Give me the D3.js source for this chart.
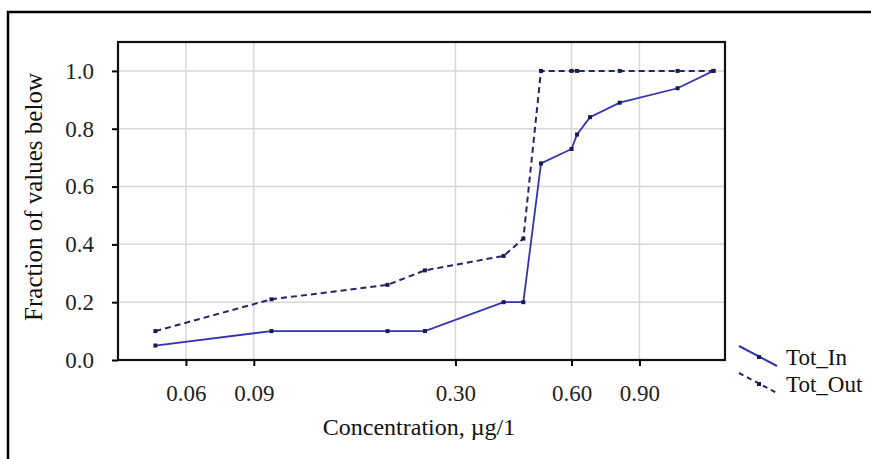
<!DOCTYPE html>
<html>
<head>
<meta charset="utf-8">
<script src="https://cdn.jsdelivr.net/npm/d3@7"></script>
<style>
  body { margin: 0; background: #fff; }
  svg { display: block; }
</style>
</head>
<body>
<svg id="chart" width="871" height="459"></svg>
<script>
// concentrations (ug/l) and cumulative fractions
const inConc = [0.05, 0.10, 0.20, 0.25, 0.40, 0.45, 0.50, 0.60, 0.62, 0.67, 0.80, 1.13, 1.40];
const inFrac = [0.05, 0.10, 0.10, 0.10, 0.20, 0.20, 0.68, 0.73, 0.78, 0.84, 0.89, 0.94, 1.00];
const outConc = [0.05, 0.10, 0.20, 0.25, 0.40, 0.45, 0.50, 0.60, 0.62, 0.80, 1.13, 1.40];
const outFrac = [0.10, 0.21, 0.26, 0.31, 0.36, 0.42, 1.00, 1.00, 1.00, 1.00, 1.00, 1.00];

const xTicks = [0.06, 0.09, 0.30, 0.60, 0.90];
const yTicks = [0.0, 0.2, 0.4, 0.6, 0.8, 1.0];
const seriesNames = ["Tot_In", "Tot_Out"];

const svg = d3.select("#chart");
const font = "'Liberation Serif', 'Times New Roman', serif";

const plot = {left: 118, right: 725, top: 42, bottom: 360};

const x = d3.scaleLog().domain([0.04, 1.5]).range([plot.left, plot.right]);
const y = d3.scaleLinear().domain([0, 1.1]).range([plot.bottom, plot.top]);

// outer frame of the picture (right and bottom edges cut off)
svg.append("rect")
    .attr("x", 8).attr("y", 12)
    .attr("width", 900).attr("height", 500)
    .attr("fill", "none")
    .attr("stroke", "#000")
    .attr("stroke-width", 2.5);

// grid
const grid = svg.append("g");
grid.selectAll(".hg").data(yTicks.filter(d => d > 0)).join("line")
    .attr("x1", plot.left).attr("x2", plot.right)
    .attr("y1", d => y(d)).attr("y2", d => y(d))
    .attr("stroke", "#d8d8d8").attr("stroke-width", 1.5);
grid.selectAll(".vg").data(xTicks).join("line")
    .attr("x1", d => x(d)).attr("x2", d => x(d))
    .attr("y1", plot.top).attr("y2", plot.bottom)
    .attr("stroke", "#d8d8d8").attr("stroke-width", 1.5);

// axes
const yAxis = svg.append("g")
    .attr("transform", `translate(${plot.left},0)`)
    .call(d3.axisLeft(y).tickValues(yTicks).tickFormat(d3.format(".1f")).tickSize(6).tickPadding(18));
const xAxis = svg.append("g")
    .attr("transform", `translate(0,${plot.bottom})`)
    .call(d3.axisBottom(x).tickValues(xTicks).tickFormat(d3.format(".2f")).tickSize(6).tickPadding(19));

[xAxis, yAxis].forEach(a => {
    a.select(".domain").remove();
    a.selectAll(".tick line").attr("stroke", "#000").attr("stroke-width", 2);
    a.selectAll(".tick text")
        .attr("font-family", font)
        .attr("font-size", 23)
        .attr("fill", "#222");
});

// plot frame
svg.append("rect")
    .attr("x", plot.left).attr("y", plot.top)
    .attr("width", plot.right - plot.left).attr("height", plot.bottom - plot.top)
    .attr("fill", "none")
    .attr("stroke", "#111")
    .attr("stroke-width", 2.2);

// series
const inData = inConc.map((c, i) => ({c: c, f: inFrac[i]}));
const outData = outConc.map((c, i) => ({c: c, f: outFrac[i]}));

const line = d3.line().x(d => x(d.c)).y(d => y(d.f));

svg.append("path").datum(outData)
    .attr("d", line)
    .attr("fill", "none")
    .attr("stroke", "#24246a")
    .attr("stroke-width", 2)
    .attr("stroke-dasharray", "6,4");
svg.append("path").datum(inData)
    .attr("d", line)
    .attr("fill", "none")
    .attr("stroke", "#3434b0")
    .attr("stroke-width", 1.8);

[outData, inData].forEach(data => {
    svg.append("g").selectAll("rect").data(data).join("rect")
        .attr("x", d => x(d.c) - 2).attr("y", d => y(d.f) - 2)
        .attr("width", 4).attr("height", 4)
        .attr("fill", "#1a1a50");
});

// axis titles
svg.append("text")
    .attr("x", 419).attr("y", 435)
    .attr("text-anchor", "middle")
    .attr("font-family", font).attr("font-size", 24)
    .attr("fill", "#111")
    .text("Concentration, µg/1");

svg.append("text")
    .attr("transform", "translate(42,197) rotate(-90)")
    .attr("text-anchor", "middle")
    .attr("font-family", font).attr("font-size", 25)
    .attr("fill", "#111")
    .text("Fraction of values below");

// legend
const legend = svg.append("g");
seriesNames.forEach((name, i) => {
    const g = legend.append("g").attr("transform", `translate(739,${346 + i * 27})`);
    g.append("line")
        .attr("x1", 0).attr("y1", 0).attr("x2", 38).attr("y2", 20)
        .attr("stroke", i === 0 ? "#3434b0" : "#24246a")
        .attr("stroke-width", 2)
        .attr("stroke-dasharray", i === 0 ? null : "5,4");
    g.append("rect")
        .attr("x", 18).attr("y", 9).attr("width", 4).attr("height", 4)
        .attr("fill", "#1a1a50");
    g.append("text")
        .attr("x", 47).attr("y", 19)
        .attr("font-family", font).attr("font-size", 23)
        .attr("fill", "#111")
        .text(name);
});
</script>
</body>
</html>
